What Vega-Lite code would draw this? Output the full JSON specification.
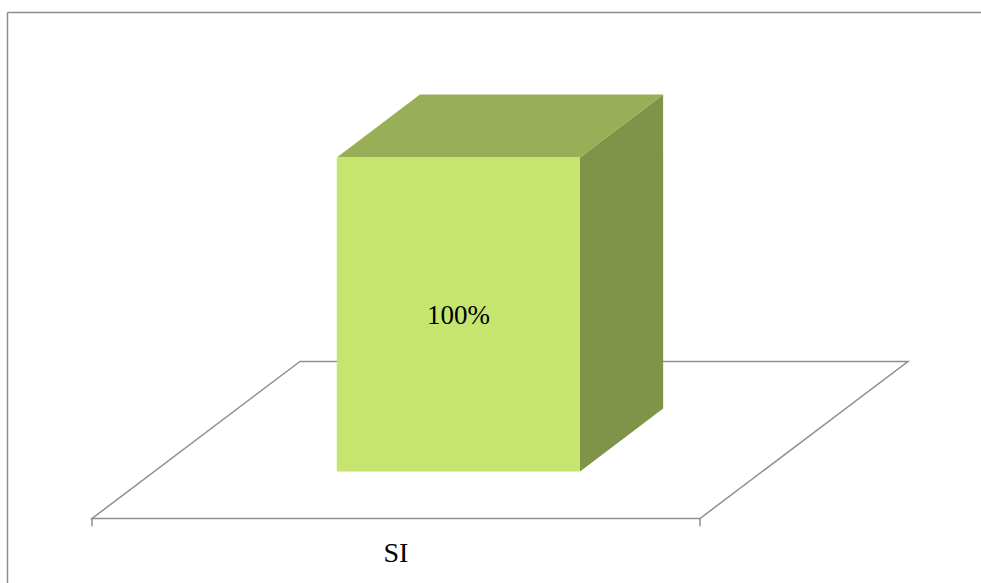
{
  "$schema": "https://vega.github.io/schema/vega-lite/v6.json",
  "description": "3-D column chart of the SI share. Oblique projection of the category slot: screen x = u + 0.342 * depth, screen y = h + 50 * depth, where u runs 0..1 across the slot, depth 0..1 front to back and h is the percentage.",
  "autosize": {"type": "fit", "contains": "padding"},
  "width": 981,
  "height": 583,
  "padding": {"top": 12, "left": 7, "right": 0, "bottom": 0},
  "background": "white",
  "config": {
    "view": {"stroke": null},
    "font": "Liberation Serif",
    "axis": {"domain": true, "domainColor": "#8c8c8c", "domainWidth": 1.5, "ticks": false, "labels": false, "grid": false, "title": null}
  },
  "data": {"values": [{"category": "SI", "value": 100}]},
  "encoding": {
    "x": {"field": "px", "type": "quantitative", "axis": {"orient": "top"}, "scale": {"domain": [-0.139803, 1.462171], "nice": false, "zero": false}},
    "y": {"field": "py", "type": "quantitative", "axis": {"orient": "left"}, "scale": {"domain": [-20.541, 161.306], "nice": false, "zero": false}}
  },
  "layer": [
    {
      "description": "floor of the category slot, outlined",
      "transform": [
        {"calculate": "[0, 1]", "as": "depth"},
        {"flatten": ["depth"]},
        {"calculate": "0.342 * datum.depth", "as": "px"},
        {"calculate": "1 + 0.342 * datum.depth", "as": "px2"},
        {"calculate": "50 * datum.depth", "as": "py"}
      ],
      "mark": {"type": "area", "orient": "horizontal", "fill": "white", "stroke": "#8f8f8f", "strokeWidth": 1.5},
      "encoding": {"x2": {"field": "px2"}}
    },
    {
      "description": "tick marks at the slot boundaries on the front edge",
      "transform": [
        {"calculate": "[0, 1]", "as": "px"},
        {"flatten": ["px"]},
        {"calculate": "0", "as": "py"},
        {"calculate": "-2.5", "as": "py2"}
      ],
      "mark": {"type": "rule", "stroke": "#8f8f8f", "strokeWidth": 1.5},
      "encoding": {"y2": {"field": "py2"}}
    },
    {
      "description": "right side face of the column",
      "transform": [
        {"calculate": "[0.3, 0.7]", "as": "depth"},
        {"flatten": ["depth"]},
        {"calculate": "0.7 + 0.342 * datum.depth", "as": "px"},
        {"calculate": "datum.value + 50 * datum.depth", "as": "py"},
        {"calculate": "50 * datum.depth", "as": "py2"}
      ],
      "mark": {"type": "area", "orient": "vertical", "fill": "#7f9448"},
      "encoding": {"y2": {"field": "py2"}}
    },
    {
      "description": "top face of the column",
      "transform": [
        {"calculate": "[0.3, 0.7]", "as": "depth"},
        {"flatten": ["depth"]},
        {"calculate": "0.3 + 0.342 * datum.depth", "as": "px"},
        {"calculate": "0.7 + 0.342 * datum.depth", "as": "px2"},
        {"calculate": "datum.value + 50 * datum.depth", "as": "py"}
      ],
      "mark": {"type": "area", "orient": "horizontal", "fill": "#98ae57"},
      "encoding": {"x2": {"field": "px2"}}
    },
    {
      "description": "front face of the column",
      "transform": [
        {"calculate": "0.3 + 0.342 * 0.3", "as": "px"},
        {"calculate": "0.7 + 0.342 * 0.3", "as": "px2"},
        {"calculate": "datum.value + 50 * 0.3", "as": "py"},
        {"calculate": "50 * 0.3", "as": "py2"}
      ],
      "mark": {"type": "rect", "fill": "#c6e56f"},
      "encoding": {"x2": {"field": "px2"}, "y2": {"field": "py2"}}
    },
    {
      "description": "value label on the front face",
      "transform": [
        {"calculate": "0.5 + 0.342 * 0.3", "as": "px"},
        {"calculate": "datum.value / 2 + 50 * 0.3", "as": "py"},
        {"calculate": "datum.value + '%'", "as": "label"}
      ],
      "mark": {"type": "text", "font": "Liberation Serif", "fontSize": 27, "align": "center", "baseline": "middle", "dy": 2, "color": "black"},
      "encoding": {"text": {"field": "label"}}
    },
    {
      "description": "category label under the slot",
      "transform": [
        {"calculate": "0.5", "as": "px"},
        {"calculate": "0", "as": "py"}
      ],
      "mark": {"type": "text", "font": "Liberation Serif", "fontSize": 28, "align": "center", "baseline": "alphabetic", "dy": 43.5, "color": "black"},
      "encoding": {"text": {"field": "category"}}
    }
  ]
}
